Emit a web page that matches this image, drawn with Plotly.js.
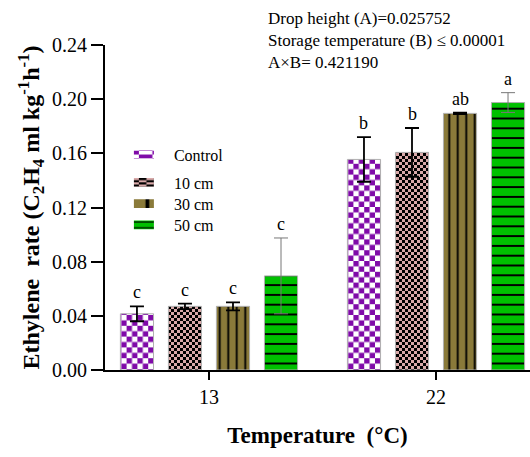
<!DOCTYPE html>
<html>
<head>
<meta charset="utf-8">
<script src="https://cdn.plot.ly/plotly-3.0.1.min.js"></script>
<style>html,body{margin:0;padding:0;background:#fff;}#chart{width:530px;height:457px;}</style>
</head>
<body>
<div id="chart"></div>
<script>
// ---- data ----
const temperatures = ["13", "22"];
const seriesNames = ["Control", "10 cm", "30 cm", "50 cm"];
const controlVals = [0.0415, 0.1555];
const cm10Vals    = [0.0470, 0.1607];
const cm30Vals    = [0.0470, 0.1895];
const cm50Vals    = [0.0695, 0.1975];
const controlErr  = [0.0055, 0.0165];
const cm10Err     = [0.0020, 0.0180];
const cm30Err     = [0.0030, 0.0005];
const cm50Err     = [0.0280, 0.0073];
const controlLetters = ["c", "b"];
const cm10Letters    = ["c", "b"];
const cm30Letters    = ["c", "ab"];
const cm50Letters    = ["c", "a"];
const statsLines = ["Drop height (A)=0.025752", "Storage temperature (B) \u2264 0.00001", "A\u00d7B= 0.421190"];

const values = [controlVals, cm10Vals, cm30Vals, cm50Vals];
const errs = [controlErr, cm10Err, cm30Err, cm50Err];
const letters = [controlLetters, cm10Letters, cm30Letters, cm50Letters];

const FONT = "Liberation Serif";
const BARGAP = 0.154;
const colors = ["#7f0aa8", "#d9a9a9", "#8a7a3a", "#00c000"];

const patterns = [
  null,
  null,
  {shape: "|", bgcolor: "#8a7a3a", fgcolor: "#000000", size: 8.5, solidity: 0.22, fillmode: "replace"},
  {shape: "-", bgcolor: "#00c000", fgcolor: "#000000", size: 9.8, solidity: 0.2, fillmode: "replace"}
];
const errColors = ["#000000", "#000000", "#000000", "#777777"];
const errThick = [1.8, 1.8, 1.8, 1.0];

const traces = seriesNames.map((name, i) => {
  const m = {color: colors[i], line: {color: "#b0b0b0", width: 1}};
  if (patterns[i]) m.pattern = patterns[i];
  return {
    type: "bar",
    name: name,
    x: temperatures,
    y: values[i],
    marker: m,
    legendgroup: i === 0 ? "g0" : "g1",
    error_y: {type: "data", array: errs[i], visible: true, color: errColors[i], thickness: errThick[i], width: 7},
    hoverinfo: "none"
  };
});

const slot = (1 - BARGAP) / seriesNames.length;
const annotations = [];
letters.forEach((arr, i) => {
  arr.forEach((txt, c) => {
    annotations.push({
      x: c + (i - (seriesNames.length - 1) / 2) * slot,
      y: values[i][c] + errs[i][c],
      xref: "x", yref: "y",
      text: txt, showarrow: false,
      yanchor: "bottom", yshift: 2,
      font: {family: FONT, size: 18, color: "#000"}
    });
  });
});
annotations.push({
  xref: "paper", yref: "paper", x: 0.378, y: 1.118,
  xanchor: "left", yanchor: "top", align: "left",
  text: statsLines.join("<br>"), showarrow: false,
  font: {family: FONT, size: 17, color: "#000"}
});

const layout = {
  width: 530, height: 457,
  margin: {l: 105, r: 0, t: 45, b: 87},
  paper_bgcolor: "#fff", plot_bgcolor: "#fff",
  barmode: "group", bargap: BARGAP, bargroupgap: 0.31,
  font: {family: FONT, color: "#000"},
  showlegend: true,
  legend: {
    x: 0.068, y: 0.715, xanchor: "left", yanchor: "top",
    font: {family: FONT, size: 16, color: "#000"},
    traceorder: "grouped", tracegroupgap: 4,
    bgcolor: "rgba(0,0,0,0)", itemclick: false
  },
  xaxis: {
    type: "category", range: [-0.458, 1.414],
    showline: true, linecolor: "#000", linewidth: 2,
    ticks: "outside", ticklen: 8, tickwidth: 2, tickcolor: "#000",
    tickfont: {family: FONT, size: 20, color: "#000"},
    showgrid: false, zeroline: false, fixedrange: true,
    title: {text: "<b>Temperature  (\u00b0C)</b>", font: {family: FONT, size: 23, color: "#000"}, standoff: 20}
  },
  yaxis: {
    range: [0, 0.24], tickvals: [0, 0.04, 0.08, 0.12, 0.16, 0.20, 0.24],
    tickformat: ".2f",
    showline: true, linecolor: "#000", linewidth: 2,
    ticks: "outside", ticklen: 12, tickwidth: 2, tickcolor: "#000",
    tickfont: {family: FONT, size: 20, color: "#000"},
    showgrid: false, zeroline: false, fixedrange: true,
    title: {text: "<b>Ethylene  rate (C<sub>2</sub>H<sub>4</sub> ml kg<sup>-1</sup>h<sup>-1</sup>)</b>", font: {family: FONT, size: 24, color: "#000"}, standoff: 6}
  },
  shapes: [
    {type: "line", xref: "paper", yref: "paper", x0: -0.032, x1: 0, y0: 0, y1: 0, line: {color: "#000", width: 2}}
  ],
  annotations: annotations
};

Plotly.newPlot("chart", traces, layout, {staticPlot: true, displayModeBar: false}).then(gd => {
  const svgNS = "http://www.w3.org/2000/svg";
  const svg = gd.querySelector("svg.main-svg");
  let defs = svg.querySelector("defs");
  if (!defs) { defs = document.createElementNS(svgNS, "defs"); svg.insertBefore(defs, svg.firstChild); }
  function makeChecker(id, cell, c1, c2) {
    const p = document.createElementNS(svgNS, "pattern");
    p.setAttribute("id", id);
    p.setAttribute("patternUnits", "userSpaceOnUse");
    p.setAttribute("width", 2 * cell);
    p.setAttribute("height", 2 * cell);
    const bg = document.createElementNS(svgNS, "rect");
    bg.setAttribute("width", 2 * cell); bg.setAttribute("height", 2 * cell); bg.setAttribute("fill", c2);
    p.appendChild(bg);
    [[0, 0], [cell, cell]].forEach(([x, y]) => {
      const r = document.createElementNS(svgNS, "rect");
      r.setAttribute("x", x); r.setAttribute("y", y);
      r.setAttribute("width", cell); r.setAttribute("height", cell);
      r.setAttribute("fill", c1);
      p.appendChild(r);
    });
    defs.appendChild(p);
  }
  makeChecker("chkCtrl", 5.4, "#7f0aa8", "#ffffff");
  makeChecker("chk10", 3, "#000000", "#d9a9a9");
  const fills = ["url(#chkCtrl)", "url(#chk10)"];
  const barTraces = gd.querySelectorAll(".barlayer .trace.bars");
  barTraces.forEach((t, i) => {
    if (i < 2) t.querySelectorAll(".point path").forEach(p => { p.style.fill = fills[i]; });
  });
  const legTraces = gd.querySelectorAll(".legend .traces");
  legTraces.forEach((t, i) => {
    const p = t.querySelector(".legendpoints path");
    if (p) {
      if (i < 2) p.style.fill = fills[i];
      p.setAttribute("transform", "translate(5,0) scale(2.5,0.72)");
      p.style.strokeWidth = "0";
    }
    if (i >= 2) {
      const tr = t.getAttribute("transform") || "";
      const m = tr.match(/translate\(\s*([-\d.e]+)[ ,]+([-\d.e]+)\s*\)/);
      if (m) {
        const nx = parseFloat(m[1]), ny = parseFloat(m[2]) - 2.5 * (i - 1);
        t.setAttribute("transform", "translate(" + nx + "," + ny + ")");
      }
    }
  });
});
</script>
</body>
</html>
